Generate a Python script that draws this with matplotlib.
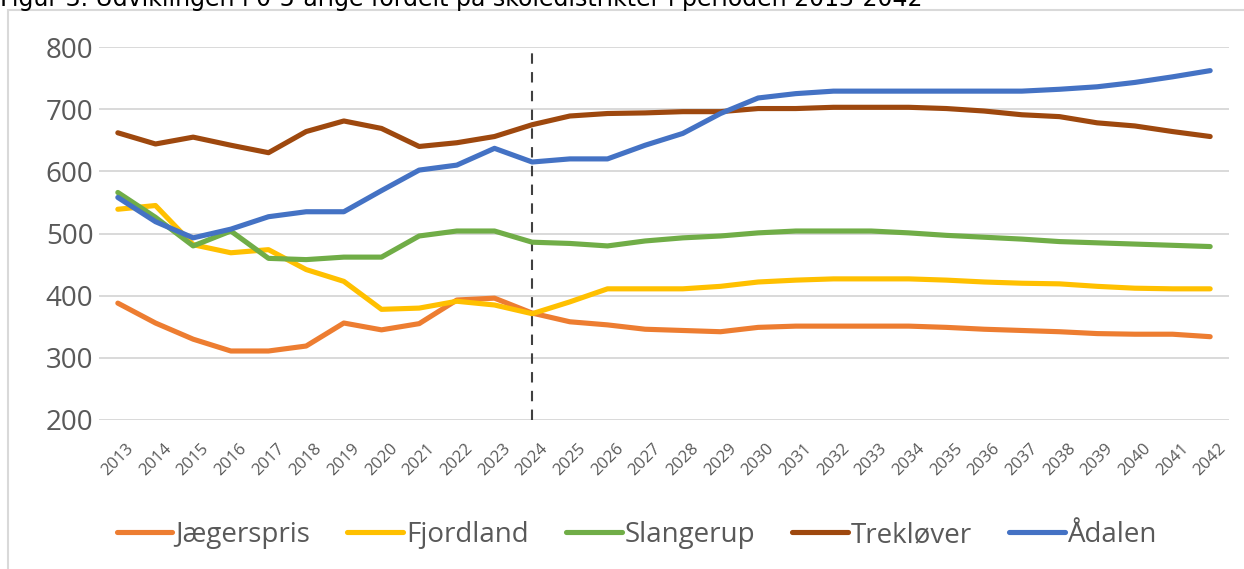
import numpy as np
import matplotlib.pyplot as plt
from matplotlib.patches import Rectangle

plt.rcParams['font.family'] = ['Open Sans', 'DejaVu Sans']

# data
years = list(range(2013, 2043))
jaegerspris = [388, 356, 330, 311, 311, 319, 356, 345, 355, 393, 396, 372, 358, 353, 346,
               344, 342, 349, 351, 351, 351, 351, 349, 346, 344, 342, 339, 338, 338, 334]
fjordland = [539, 545, 482, 469, 474, 442, 423, 378, 380, 391, 385, 371, 390, 411, 411,
             411, 415, 422, 425, 427, 427, 427, 425, 422, 420, 419, 415, 412, 411, 411]
slangerup = [566, 526, 480, 504, 460, 458, 462, 462, 496, 504, 504, 486, 484, 480, 488,
             493, 496, 501, 504, 504, 504, 501, 497, 494, 491, 487, 485, 483, 481, 479]
treklover = [662, 644, 655, 642, 630, 664, 681, 669, 640, 646, 656, 675, 689, 693, 694,
             696, 696, 701, 701, 703, 703, 703, 701, 697, 691, 688, 678, 673, 664, 656]
aadalen = [558, 519, 493, 507, 527, 535, 535, 569, 602, 610, 637, 615, 620, 620, 642,
           661, 693, 718, 725, 729, 729, 729, 729, 729, 729, 732, 736, 743, 752, 762]

names = ['Jægerspris', 'Fjordland', 'Slangerup', 'Trekløver', 'Ådalen']
series = [jaegerspris, fjordland, slangerup, treklover, aadalen]
colors = ['#ED7D31', '#FFC000', '#70AD47', '#9E480E', '#4472C4']
split_year = 2024

fig = plt.figure(figsize=(12.44, 5.69), dpi=100)
ax = fig.add_axes([99 / 1244, 1 - 420 / 569, 1130 / 1244, 373 / 569])

x = np.arange(len(years))
for name, vals, c in zip(names, series, colors):
    ax.plot(x, vals, color=c, lw=3.7, label=name, solid_capstyle='round',
            solid_joinstyle='round', zorder=3)

ax.axvline(years.index(split_year), color='#404040', lw=1.5, ls=(0, (5, 4)), zorder=2)

ax.set_xlim(-0.5, len(years) - 0.5)
ax.set_ylim(200, 800)
ax.set_yticks(range(200, 801, 100))
ax.grid(axis='y', color='#D9D9D9', lw=1.4, zorder=0)
for s in ax.spines.values():
    s.set_visible(False)
ax.tick_params(length=0)
ax.tick_params(axis='y', labelsize=20, labelcolor='#595959', pad=4)
ax.set_xticks(x)
ax.set_xticklabels([str(y) for y in years], rotation=45, ha='center',
                   fontsize=12, color='#595959')
ax.tick_params(axis='x', pad=15)

fig.legend(loc='center', bbox_to_anchor=(0.512, 1 - 535 / 569), ncol=5, frameon=False,
           fontsize=20, labelcolor='#595959', handlelength=2.0, handletextpad=0.1,
           columnspacing=1.35)

# chart border and cropped caption above it
fig.patches.append(Rectangle((8 / 1244, -0.1), 1.2, 1.1 - 10 / 569, transform=fig.transFigure,
                             fill=False, ec='#D9D9D9', lw=1.5))
fig.text(0.0, 1 - 6 / 569, 'Figur 3. Udviklingen i 0-5-årige fordelt på skoledistrikter i perioden 2013-2042',
         fontsize=17, family='DejaVu Sans', color='black', va='baseline', ha='left')

fig.savefig('out.png', dpi=100)
